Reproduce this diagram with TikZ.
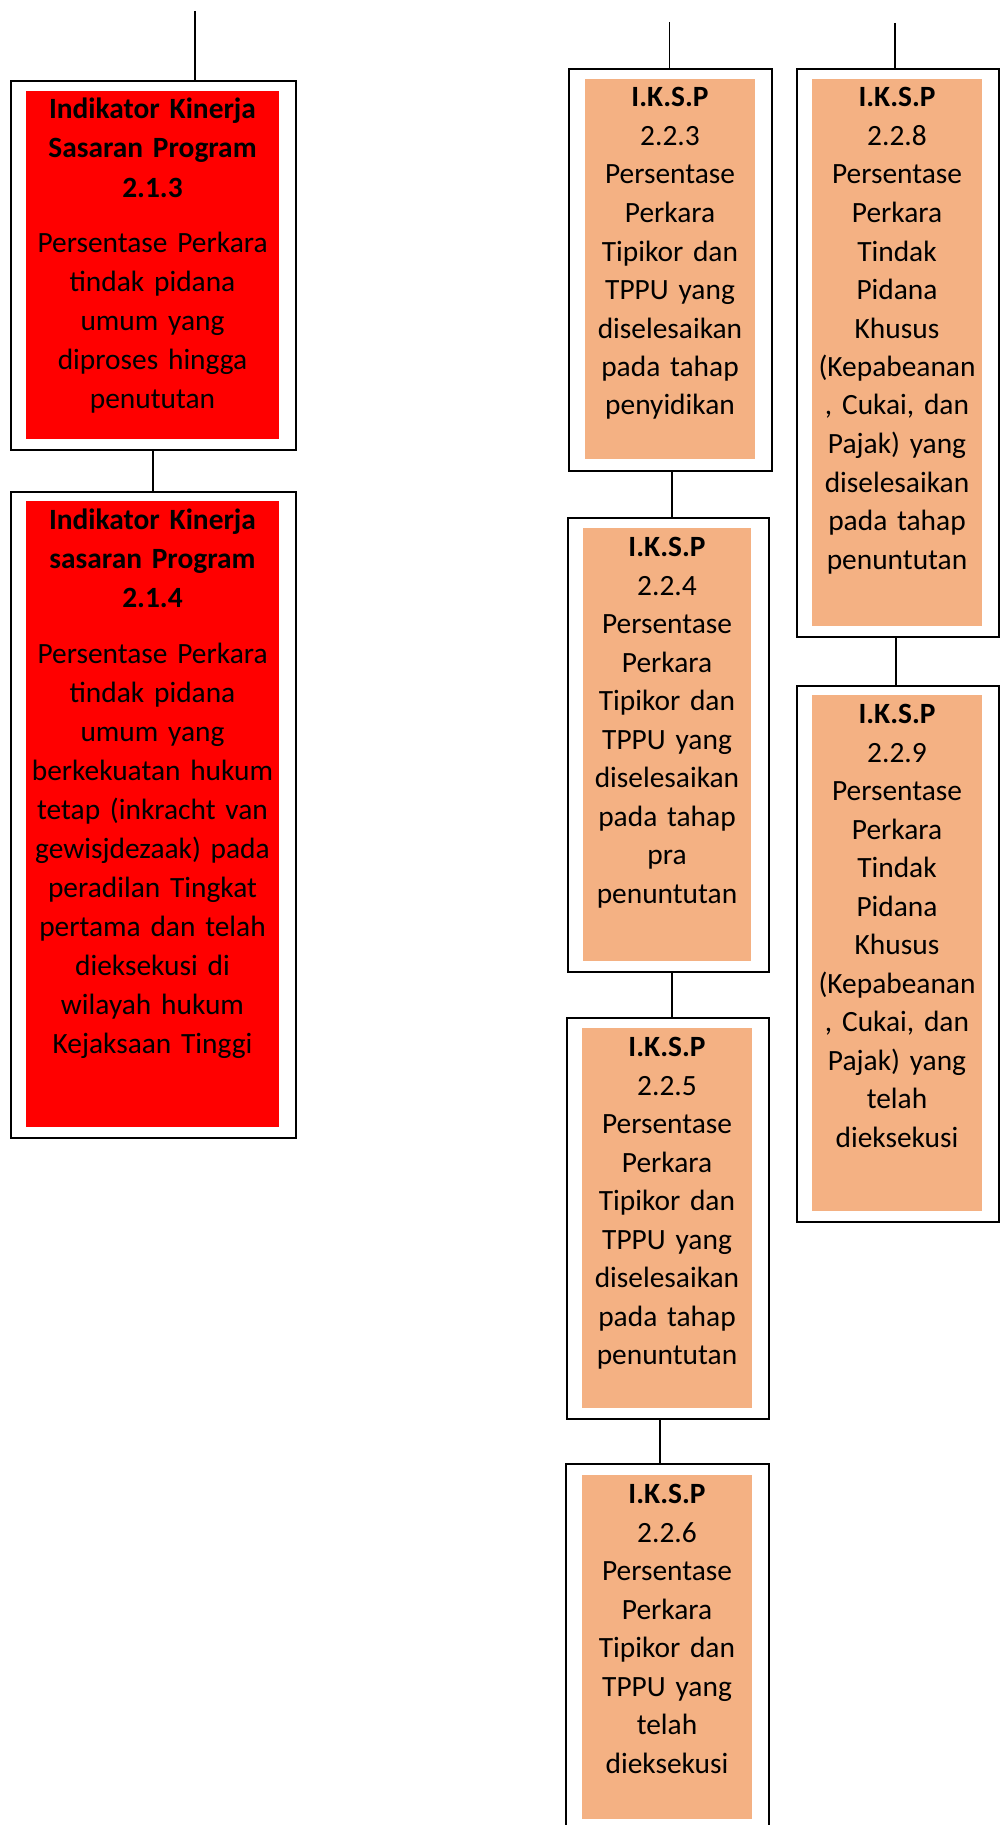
\documentclass[tikz,border=0pt]{standalone}
\usepackage{fontspec}
\setmainfont{Carlito}
\definecolor{boxred}{HTML}{FF0000}
\definecolor{salmon}{HTML}{F4B183}
\tikzset{
  outerbox/.style={draw=black, line width=2pt, fill=white, inner sep=0pt, anchor=north west},
  innerred/.style={fill=boxred, inner sep=0pt, anchor=north west},
  innersal/.style={fill=salmon, inner sep=0pt, anchor=north west},
  txtleft/.style={anchor=base, align=center, text width=280pt, inner sep=0pt, text=black, font=\fontsize{29.4}{39}\selectfont},
  txtright/.style={anchor=base, align=center, text width=200pt, inner sep=0pt, text=black, font=\fontsize{29.4}{38.5}\selectfont},
  conn/.style={draw=black, line width=1.6pt}
}
\begin{document}
\begin{tikzpicture}[x=1pt,y=-1pt]
\clip (0,0) rectangle (1006,1825);
\fill[white] (0,0) rectangle (1006,1825);

% ---------- left column ----------
\node[outerbox, minimum width=285.5pt, minimum height=369pt] (oA) at (9.5,80) {};
\node[innerred, minimum width=253pt, minimum height=348pt] (iA) at (26,91) {};
\node[txtleft] (tA) at (152.5,119) {\textbf{Indikator Kinerja}\\\textbf{Sasaran Program}\\\textbf{2.1.3}\\[16.5pt]Persentase Perkara\\tindak pidana\\umum yang\\diproses hingga\\penututan};

\node[outerbox, minimum width=285.5pt, minimum height=646pt] (oB) at (9.5,491) {};
\node[innerred, minimum width=253pt, minimum height=626pt] (iB) at (26,501) {};
\node[txtleft] (tB) at (152.5,529.5) {\textbf{Indikator Kinerja}\\\textbf{sasaran Program}\\\textbf{2.1.4}\\[16.5pt]Persentase Perkara\\tindak pidana\\umum yang\\berkekuatan hukum\\tetap (inkracht van\\gewisjdezaak) pada\\peradilan Tingkat\\pertama dan telah\\dieksekusi di\\wilayah hukum\\Kejaksaan Tinggi};

\coordinate (topA) at (195,11);
\draw[conn] (topA) -- (topA |- oA.north);
\draw[conn] (oA.south) -- (oB.north);

% ---------- right column, first stack ----------
\node[outerbox, minimum width=203pt, minimum height=402pt] (o223) at (568,68) {};
\node[innersal, minimum width=170pt, minimum height=380pt] (i223) at (585,79) {};
\node[txtright] (t223) at (670,107) {\textbf{I.K.S.P}\\2.2.3\\Persentase\\Perkara\\Tipikor dan\\TPPU yang\\diselesaikan\\pada tahap\\penyidikan};

\node[outerbox, minimum width=200.5pt, minimum height=454pt] (o224) at (567,517) {};
\node[innersal, minimum width=168pt, minimum height=432.5pt] (i224) at (583,528) {};
\node[txtright] (t224) at (667,556.5) {\textbf{I.K.S.P}\\2.2.4\\Persentase\\Perkara\\Tipikor dan\\TPPU yang\\diselesaikan\\pada tahap\\pra\\penuntutan};

\node[outerbox, minimum width=202pt, minimum height=401pt] (o225) at (566,1017) {};
\node[innersal, minimum width=170pt, minimum height=379.5pt] (i225) at (582,1028) {};
\node[txtright] (t225) at (667,1056.5) {\textbf{I.K.S.P}\\2.2.5\\Persentase\\Perkara\\Tipikor dan\\TPPU yang\\diselesaikan\\pada tahap\\penuntutan};

\node[outerbox, minimum width=203pt, minimum height=380pt] (o226) at (565,1463) {};
\node[innersal, minimum width=170pt, minimum height=344pt] (i226) at (582,1475) {};
\node[txtright] (t226) at (667,1503.5) {\textbf{I.K.S.P}\\2.2.6\\Persentase\\Perkara\\Tipikor dan\\TPPU yang\\telah\\dieksekusi};

\coordinate (top223) at (669.5,22);
\draw[conn] (top223) -- (top223 |- o223.north);
\draw[conn] ([xshift=1.5pt]o223.south) -- ([xshift=1.5pt]o223.south |- o224.north);
\draw[conn] ([xshift=4pt]o224.south) -- ([xshift=4pt]o224.south |- o225.north);
\draw[conn] ([xshift=-8pt]o225.south) -- ([xshift=-8pt]o225.south |- o226.north);

% ---------- right column, second stack ----------
\node[outerbox, minimum width=202.5pt, minimum height=568pt] (o228) at (795.5,68) {};
\node[innersal, minimum width=170pt, minimum height=547pt] (i228) at (812,79) {};
\node[txtright] (t228) at (897,107) {\textbf{I.K.S.P}\\2.2.8\\Persentase\\Perkara\\Tindak\\Pidana\\Khusus\\(Kepabeanan\\, Cukai, dan\\Pajak) yang\\diselesaikan\\pada tahap\\penuntutan};

\node[outerbox, minimum width=202.5pt, minimum height=536.5pt] (o229) at (795.5,684.5) {};
\node[innersal, minimum width=170pt, minimum height=516pt] (i229) at (812,695) {};
\node[txtright] (t229) at (897,723.5) {\textbf{I.K.S.P}\\2.2.9\\Persentase\\Perkara\\Tindak\\Pidana\\Khusus\\(Kepabeanan\\, Cukai, dan\\Pajak) yang\\telah\\dieksekusi};

\coordinate (top228) at (895,23);
\draw[conn] (top228) -- (top228 |- o228.north);
\draw[conn] ([xshift=-1.75pt]o228.south) -- ([xshift=-1.75pt]o228.south |- o229.north);
\end{tikzpicture}
\end{document}
